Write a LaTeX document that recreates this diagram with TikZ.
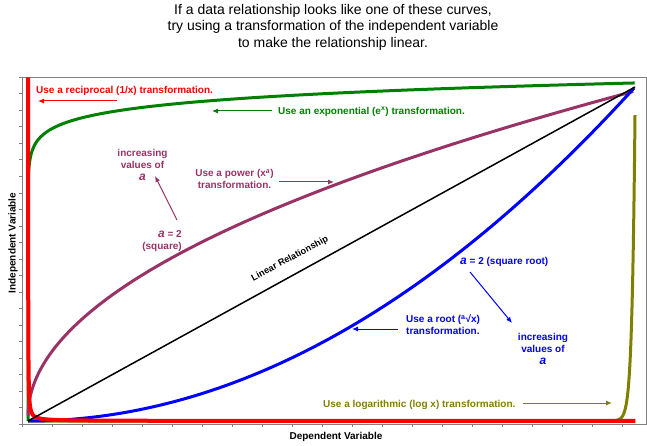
\documentclass[tikz,border=0pt]{standalone}
\usepackage{fontspec}
\setmainfont{Liberation Sans}
\usetikzlibrary{positioning,arrows.meta}
\definecolor{expGreen}{HTML}{008000}
\definecolor{powPurple}{HTML}{993366}
\definecolor{logOlive}{HTML}{808000}
\tikzset{
    curve/.style={line width=3pt, line join=round},
    note/.style={font=\bfseries\fontsize{10}{12}\selectfont, inner sep=0pt},
    pointer/.style={-{Latex[length=6pt,width=5pt]}, line width=1pt}
}
\newcommand{\avar}{{\fontsize{12}{12}\selectfont\itshape a}}

\begin{document}
\begin{tikzpicture}[x=1pt, y=-1pt]
        \useasboundingbox (0,0) rectangle (647,446);
        \node[font=\fontsize{14}{16.5}\selectfont, align=center, inner sep=0pt] (title) at (333,27)
            {If a data relationship looks like one of these curves,\\try using a transformation of the independent variable\\to make the relationship linear.};
        % frame and ticks
        \draw[gray] (22,77) rectangle (646,424);
        \foreach \k in {0,...,21}
            \draw[gray] (19,{424-16.52*\k}) -- (22,{424-16.52*\k});
        \foreach \k in {0,...,20}
            \draw[gray] ({22+30*\k},424) -- ({22+30*\k},427);
        \node[note, rotate=90] (ylab) at (13,243) {Independent Variable};
        \node[note] (xlab) at (336,437) {Dependent Variable};
        \coordinate (origin) at (28,421);
        \coordinate (top) at (635,87);
        % curves
        \draw[curve, logOlive] (origin) -- (600,421) -- plot[domain=600:635, samples=80] (\x,{421-306*exp(0.33*(\x-635))});
        \draw[curve, expGreen] (origin) -- plot[domain=-16:0, samples=200, variable=\t] ({28+607*exp(\t)},{421-338*exp(0.045*\t)});
        \draw[curve, powPurple] plot[domain=0:1, samples=100, variable=\t] ({28+607*\t*\t},{421-330*(0.015+0.985*\t)});
        \draw[curve, blue] plot[domain=0:1, samples=100, variable=\t] ({28+607*\t},{421-334*\t*\t});
        \draw[line width=4pt, red] plot[domain=-4.135:4.705, samples=200, variable=\t] ({28+5.5*exp(\t)},{421-5.5*exp(-\t)});
        \draw[line width=1.5pt] (origin) -- (top);
        \node[font=\bfseries\fontsize{9.2}{11}\selectfont, rotate=28, inner sep=0pt] (lin) at (290,259) {Linear Relationship};
        % reciprocal
        \node[note, red, anchor=west] (recip) at (36,91) {Use a reciprocal (1/x) transformation.};
        \coordinate (recipFrom) at (117,101);
        \coordinate (recipTo) at (38,101);
        \draw[pointer, red] (recipFrom) -- (recipTo);
        % exponential
        \node[note, expGreen, anchor=west] (expo) at (278,112) {Use an exponential (e\textsuperscript{x}) transformation.};
        \coordinate (expoFrom) at (272,111);
        \coordinate (expoTo) at (212,111);
        \draw[pointer, expGreen] (expoFrom) -- (expoTo);
        % power
        \node[note, powPurple, align=center] (incP) at (142.5,165) {increasing\\values of\\\avar};
        \node[note, powPurple, align=right, anchor=east] (sqP) at (182,241) {\avar{} = 2\\(square)};
        \node[note, powPurple, align=center] (power) at (234.5,179) {Use a power (x\textsuperscript{\itshape a})\\transformation.};
        \coordinate (sqFrom) at (177,220);
        \coordinate (sqTo) at (155,176);
        \coordinate (powerFrom) at (279,182);
        \coordinate (powerTo) at (334,182);
        \draw[pointer, powPurple] (sqFrom) -- (sqTo);
        \draw[pointer, powPurple] (powerFrom) -- (powerTo);
        % root
        \node[note, blue, anchor=west] (sqB) at (460,262) {\avar{} = 2 (square root)};
        \node[note, blue, align=center] (incB) at (543,349) {increasing\\values of\\\avar};
        \node[note, blue, align=left, anchor=west] (root) at (406,325) {Use a root (\textsuperscript{a}√x)\\transformation.};
        \coordinate (rootFrom) at (398,329);
        \coordinate (rootTo) at (352,329);
        \coordinate (sqrFrom) at (470,272);
        \coordinate (sqrTo) at (512,323);
        \draw[pointer, blue] (sqrFrom) -- (sqrTo);
        \draw[pointer, blue] (rootFrom) -- (rootTo);
        % logarithmic
        \node[note, logOlive, anchor=west] (logn) at (323,405) {Use a logarithmic (log x) transformation.};
        \coordinate (lognFrom) at (523,403);
        \coordinate (lognTo) at (612,403);
        \draw[pointer, logOlive] (lognFrom) -- (lognTo);
\end{tikzpicture}
\end{document}
